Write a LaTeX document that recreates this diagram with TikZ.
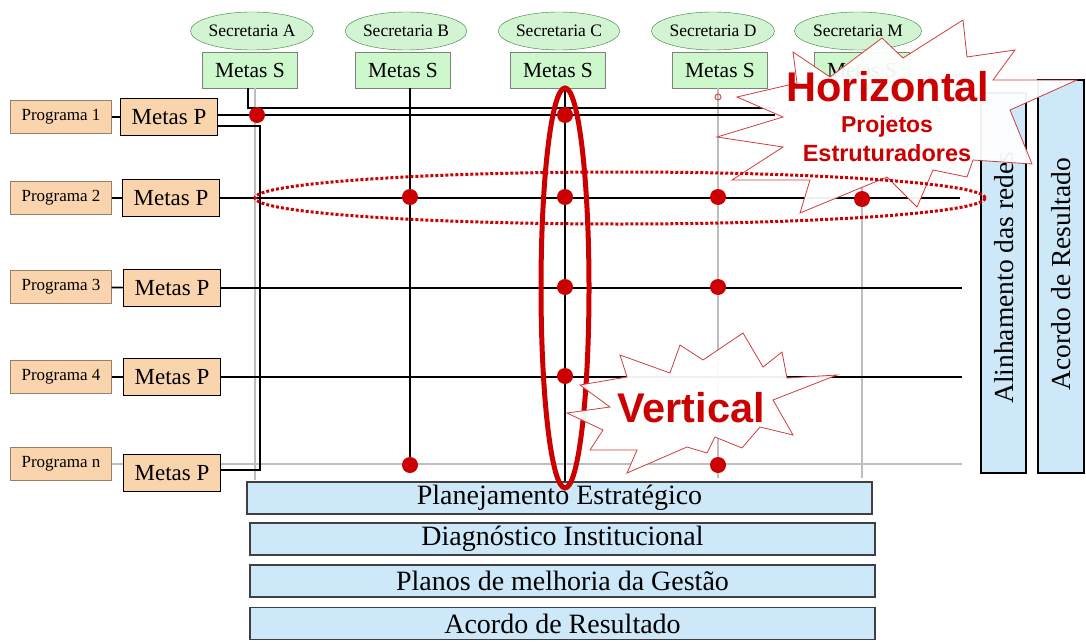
\documentclass[tikz,border=0pt]{standalone}
\usepackage{fontspec}
\setmainfont{Liberation Serif}
\newfontfamily\burstfont{Liberation Sans}
\usetikzlibrary{shapes.geometric}
\definecolor{peach}{RGB}{250,212,172}
\definecolor{secgreen}{RGB}{210,244,210}
\definecolor{metgreen}{RGB}{204,248,204}
\definecolor{barblue}{RGB}{205,233,249}
\definecolor{dred}{RGB}{204,0,0}
\definecolor{burstline}{RGB}{210,60,60}
\definecolor{linegray}{RGB}{190,190,190}
\begin{document}
\begin{tikzpicture}[x=1pt,y=-1pt,
  sec/.style={ellipse,draw=gray!60!green!70!black,fill=secgreen,minimum width=118pt,minimum height=38pt,inner sep=0pt,font=\fontsize{17.5}{19}\selectfont},
  metass/.style={draw=gray,fill=metgreen,minimum width=95pt,minimum height=36pt,inner sep=0pt,font=\fontsize{21.5}{23}\selectfont},
  prog/.style={draw=gray!70!brown,fill=peach,minimum width=101pt,minimum height=33pt,inner sep=0pt,font=\fontsize{17}{19}\selectfont},
  metasp/.style={draw=black,line width=1.3pt,fill=peach,minimum width=97pt,minimum height=37pt,inner sep=0pt,font=\fontsize{23}{25}\selectfont},
  hbar/.style={draw=black!75,line width=1.3pt,fill=barblue,minimum width=625pt,minimum height=32pt,inner sep=0pt,font=\fontsize{28}{30}\selectfont},
  vbar/.style={draw=black,line width=1.3pt,fill=barblue},
  vtext/.style={rotate=90,inner sep=0pt,font=\fontsize{27.5}{29}\selectfont},
  dot/.style={circle,fill=dred,inner sep=0pt,minimum size=16pt},
  gline/.style={linegray,line width=1.5pt},
  bline/.style={black,line width=1.6pt},
  burst/.style={draw=burstline,line width=0.8pt,fill=white,fill opacity=0.94},
  bursttext/.style={text=dred,inner sep=0pt,font=\burstfont\bfseries}
]
\useasboundingbox (0,0) rectangle (1086,642);

% ---- coordinates ----
\coordinate (e1a) at (775,108);
\coordinate (e1b) at (775,115);
\coordinate (j1) at (260,126);
\coordinate (jn) at (260,470);
\coordinate (e2) at (960,198);
\coordinate (e3) at (962,288);
\coordinate (e4) at (962,377);
\coordinate (en) at (962,464);
\coordinate (gA) at (255,480);
\coordinate (cEnd) at (565,482);
\coordinate (gD) at (718,478);
\coordinate (gM) at (862,478);

% ---- secretarias ----
\node[sec] (sA) at (252,31) {Secretaria A};
\node[sec] (sB) at (406,31) {Secretaria B};
\node[sec] (sC) at (559,31) {Secretaria C};
\node[sec] (sD) at (713,31) {Secretaria D};
\node[sec] (sM) at (858,31) {Secretaria M};
\node[metass] (msA) at (250,70) {Metas S};
\node[metass] (msB) at (403,70) {Metas S};
\node[metass] (msC) at (558,70) {Metas S};
\node[metass] (msD) at (720,70) {Metas S};
\node[metass] (msM) at (862,70) {Metas S};

% ---- programas ----
\node[prog] (p1) at (61,117) {Programa 1};
\node[prog] (p2) at (61,198) {Programa 2};
\node[prog] (p3) at (61,287) {Programa 3};
\node[prog] (p4) at (61,377) {Programa 4};
\node[prog] (pn) at (61,464) {Programa n};

% ---- gray lines ----
\draw[gline] (msA.south -| gA) -- (gA);
\draw[gline] (msD.south -| gD) -- (gD);
\draw[gline] (msM.south -| gM) -- (gM);
\draw[gline] (pn.east) -- (en);

% ---- dots (positions) ----
\coordinate (cA1) at (257,115);
\coordinate (cC1) at (565,115);
\coordinate (cB2) at (410,197);
\coordinate (cC2) at (565,197);
\coordinate (cD2) at (718,197);
\coordinate (cM2) at (862,199);
\coordinate (cC3) at (565,287);
\coordinate (cD3) at (718,287);
\coordinate (cC4) at (565,376);
\coordinate (cB5) at (410,465);
\coordinate (cD5) at (718,465);

% ---- metas P ----
\node[metasp] (mp1) at (169,117) {Metas P};
\node[metasp] (mp2) at (171,198) {Metas P};
\node[metasp] (mp3) at (172,288) {Metas P};
\node[metasp] (mp4) at (172,377) {Metas P};
\node[metasp] (mpn) at (172,473) {Metas P};

% ---- black lines ----
\draw[bline] (p1) -- (mp1);
\draw[bline] (p2) -- (mp2);
\draw[bline] (p3) -- (mp3);
\draw[bline] (p4) -- (mp4);
\draw[bline] (msA.south -| 248,0) -- (248,108) -- (e1a);
\draw[bline] ([yshift=2pt]mp1.east) -- (e1b);
\draw[bline] ([yshift=-9pt]mp1.east) -- (j1) -- (jn) -- (jn -| mpn.east);
\draw[bline] (mp2.east) -- (e2);
\draw[bline] (mp3.east) -- (e3);
\draw[bline] (mp4.east) -- (e4);
\draw[bline] (msB.south -| cB5) -- (cB5);
\draw[bline] (msC.south -| cEnd) -- (cEnd);
\node[circle,draw=dred!70,line width=1pt,inner sep=0pt,minimum size=6pt] (oD) at (718,97) {};

% ---- bottom bars ----
\node[hbar] (b1) at (559.5,498) {Planejamento Estratégico};
\node[hbar] (b2) at (562.5,539) {Diagnóstico Institucional};
\node[hbar] (b3) at (562.5,581) {Planos de melhoria da Gestão};
\node[hbar] (b4) at (562.5,623.5) {Acordo de Resultado};

% ---- right bars ----
\draw[vbar] (981,93) rectangle (1026,473);
\node[vtext,anchor=west] (al) at (1004,404) {Alinhamento das redes};
\draw[vbar] (1038,80) rectangle (1084,473);
\node[vtext] (ac) at (1061,274) {Acordo de Resultado};

% ---- vertical red ellipse ----
\draw[dred,line width=5pt] (565,288) ellipse [x radius=24pt, y radius=200pt];

% ---- starbursts ----
\draw[burst] (793,52) -- (830,77) -- (882,38) -- (903,58) -- (963,20) -- (967,57) -- (1015,50) -- (993,80) -- (1077,80) -- (1010,110) -- (1032,164) -- (973,160) -- (967,177) -- (933,170) -- (917,207) -- (887,177) -- (800,213) -- (810,180) -- (732,180) -- (783,147) -- (717,137) -- (783,117) -- (737,97) -- (797,83) -- cycle;
\draw[burst] (620,355) -- (670,373) -- (680,345) -- (703,360) -- (743,333) -- (763,367) -- (782,352) -- (787,378) -- (837,375) -- (773,400) -- (793,435) -- (760,427) -- (742,448) -- (715,437) -- (707,453) -- (687,447) -- (627,473) -- (637,450) -- (590,450) -- (603,430) -- (567,413) -- (610,407) -- (580,385) -- (627,377) -- cycle;

% ---- dotted red ellipse ----
\draw[dred,line width=3pt,dash pattern=on 3pt off 2pt] (620,198) ellipse [x radius=365pt, y radius=26pt];

% ---- dots ----
\foreach \c in {cA1,cC1,cB2,cC2,cD2,cM2,cC3,cD3,cC4,cB5,cD5}
  \node[dot] (d\c) at (\c) {};

% ---- burst texts ----
\node[bursttext,font=\burstfont\bfseries\fontsize{41.5}{44}\selectfont] (th) at (888,87) {Horizontal};
\node[bursttext,font=\burstfont\bfseries\fontsize{23}{25}\selectfont] (tp) at (887,127) {Projetos};
\node[bursttext,font=\burstfont\bfseries\fontsize{23.5}{25}\selectfont] (te) at (887,153) {Estruturadores};
\node[bursttext,font=\burstfont\bfseries\fontsize{41.5}{44}\selectfont] (tv) at (691,408) {Vertical};
\end{tikzpicture}
\end{document}
